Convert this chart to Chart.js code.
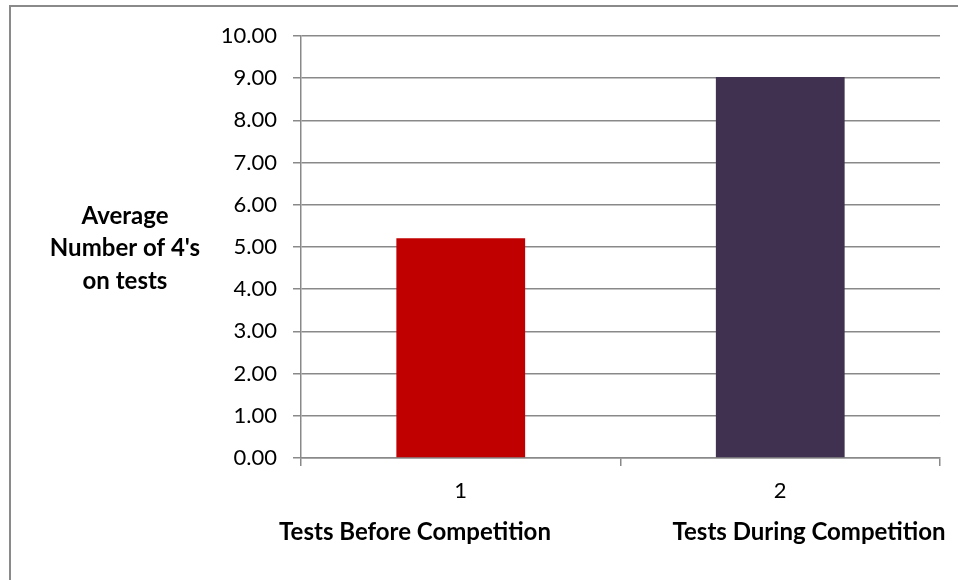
<!DOCTYPE html>
<html>
<head>
<meta charset="utf-8">
<script src="https://cdn.jsdelivr.net/npm/chart.js@4.4.1/dist/chart.umd.min.js"></script>
<style>
  html, body { margin: 0; padding: 0; background: #ffffff; }
  #wrap { width: 958px; height: 580px; position: relative; }
</style>
</head>
<body>
<div id="wrap"><canvas id="c" width="958" height="580"></canvas></div>
<script>
const tickNumbers = ["1", "2"];
const categoryNames = ["Tests Before Competition", "Tests During Competition"];
const averageFours = [5.21, 9.03];
const barColors = ["#C00000", "#403151"];
const yTitleLines = ["Average", "Number of 4's", "on tests"];

const FONT = "Lato, 'Liberation Sans', sans-serif";
const LINE = "#898989";

const framePlugin = {
  id: 'frame',
  beforeDraw(chart) {
    const ctx = chart.ctx;
    ctx.save();
    ctx.fillStyle = '#ffffff';
    ctx.fillRect(0, 0, chart.width, chart.height);
    ctx.strokeStyle = '#8a8a8a';
    ctx.lineWidth = 2;
    ctx.beginPath();
    ctx.moveTo(10, 600);
    ctx.lineTo(10, 6);
    ctx.lineTo(960, 6);
    ctx.stroke();
    ctx.restore();
  },
  afterDraw(chart) {
    const ctx = chart.ctx;
    ctx.save();
    ctx.fillStyle = '#000000';
    ctx.font = "bold 24px " + FONT;
    ctx.textAlign = 'center';
    ctx.textBaseline = 'middle';
    const y0 = 216, step = 32.5;
    yTitleLines.forEach((t, i) => ctx.fillText(t, 125, y0 + i * step));
    // x-axis title text (two parts, as in the reference)
    const centers = [415, 809];
    categoryNames.forEach((t, i) => ctx.fillText(t, centers[i], 532));
    ctx.restore();
  }
};

new Chart(document.getElementById('c'), {
  type: 'bar',
  data: {
    labels: tickNumbers,
    datasets: [{
      data: averageFours,
      backgroundColor: barColors,
      borderWidth: 0,
      barPercentage: 0.403,
      categoryPercentage: 1.0
    }]
  },
  options: {
    responsive: false,
    animation: false,
    devicePixelRatio: 1,
    layout: { padding: { left: 0, right: 18, top: 36, bottom: 0 } },
    plugins: { legend: { display: false }, tooltip: { enabled: false } },
    scales: {
      y: {
        min: 0, max: 10,
        ticks: {
          stepSize: 1,
          color: '#000000',
          font: { family: FONT, size: 22 },
          padding: 16,
          callback: v => Number(v).toFixed(2)
        },
        grid: { color: LINE, lineWidth: 1.5, tickLength: 8, drawTicks: true },
        border: { color: LINE, width: 1.5 },
        afterFit(scale) { scale.width = 301; }
      },
      x: {
        type: 'category',
        labels: tickNumbers,
        offset: true,
        ticks: {
          color: '#000000',
          font: { family: FONT, size: 22 },
          padding: 12
        },
        grid: { display: true, drawOnChartArea: false, offset: true, color: LINE, lineWidth: 1.5, tickLength: 8 },
        border: { color: LINE, width: 1.5 },
        afterFit(scale) { scale.height = 122; }
      }
    }
  },
  plugins: [framePlugin]
});
</script>
</body>
</html>
